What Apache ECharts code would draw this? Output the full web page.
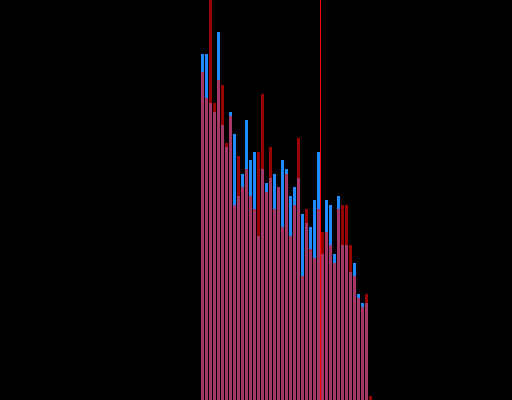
<!DOCTYPE html>
<html>
<head>
<meta charset="utf-8">
<script src="https://cdn.jsdelivr.net/npm/echarts@6/dist/echarts.min.js"></script>
<style>html,body{margin:0;padding:0;background:#000;}#c{width:512px;height:400px;}</style>
</head>
<body>
<div id="c"></div>
<script>
var categories = [];
for (var k = 1; k <= 43; k++) categories.push(String(k));
var blueValues = [346,346,297,288,368,275,253,288,266,204,226,280,240,248,164,231,217,222,226,213,240,231,204,213,222,186,177,173,200,248,146,200,195,146,204,155,155,128,137,106,97,97,0];
var redValues = [328,302,430,297,320,315,257,284,195,244,213,231,204,191,248,306,208,253,191,213,173,226,164,195,262,124,191,151,142,191,168,168,155,137,191,195,195,155,124,102,93,106,4];
var markerPosition = [30];

var chart = echarts.init(document.getElementById('c'), null, {renderer: 'canvas'});
chart.setOption({
  backgroundColor: '#000000',
  animation: false,
  grid: {left: 200.5, width: 172, top: 0, bottom: 0},
  xAxis: [
    {type: 'category', data: categories, show: false, boundaryGap: true},
    {type: 'value', min: 0, max: 43, show: false}
  ],
  yAxis: {type: 'value', min: 0, max: 400, show: false},
  series: [
    {type: 'bar', name: 'blue', data: blueValues, barWidth: 3, barGap: '-100%',
     itemStyle: {color: '#1e8cff'}},
    {type: 'bar', name: 'red', data: redValues, barWidth: 3, barGap: '-100%',
     itemStyle: {color: '#ff0000', opacity: 0.6}},
    {type: 'line', xAxisIndex: 1, data: [], z: 10,
     markLine: {silent: true, symbol: 'none', label: {show: false}, z: 10,
       lineStyle: {color: '#ff0000', width: 1, type: 'solid', opacity: 1},
       data: markerPosition.map(function (v) { return {xAxis: v}; })}}
  ]
});
</script>
</body>
</html>
